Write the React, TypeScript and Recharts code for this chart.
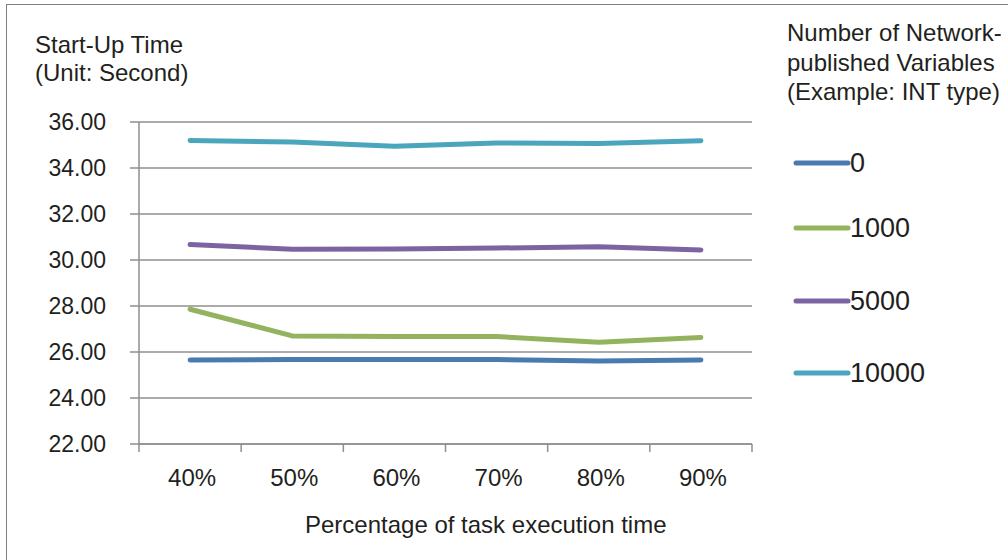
import { CartesianGrid, Legend, Line, LineChart, XAxis, YAxis } from "recharts";

// 데이터
const CATEGORIES = ["40%", "50%", "60%", "70%", "80%", "90%"];
const SERIES_NAMES = ["0", "1000", "5000", "10000"];
const VALUES_0 = [25.65, 25.67, 25.67, 25.67, 25.61, 25.65];
const VALUES_1000 = [27.86, 26.7, 26.67, 26.67, 26.42, 26.63];
const VALUES_5000 = [30.67, 30.47, 30.48, 30.52, 30.58, 30.44];
const VALUES_10000 = [35.2, 35.13, 34.95, 35.09, 35.07, 35.19];
const Y_TICKS = [22, 24, 26, 28, 30, 32, 34, 36];

const COLORS = ["#4a7bb0", "#93b35f", "#7b64a1", "#4ba6bd"];
const FONT = '"Liberation Sans", Arial, sans-serif';
const TEXT = "#231f20";
const GRID = "#8f8f8f";

// 레이아웃
const PLOT_LEFT = 139;
const PLOT_RIGHT = 752;
const PLOT_TOP = 122;
const PLOT_BOTTOM = 444;
const STEP = (PLOT_RIGHT - PLOT_LEFT) / CATEGORIES.length;
const LEGEND_ROW_TOPS = [0, 65, 138, 210];

const chartData = CATEGORIES.map((c, i) => ({
  name: c,
  s0: VALUES_0[i],
  s1000: VALUES_1000[i],
  s5000: VALUES_5000[i],
  s10000: VALUES_10000[i],
}));
const KEYS = ["s0", "s1000", "s5000", "s10000"];

// X축 눈금: 라벨은 가운데, 눈금선은 구간 경계
const XTick = (props: any) => {
  const { x, index } = props;
  const left = x - STEP / 2;
  return (
    <g>
      <line x1={left} x2={left} y1={PLOT_BOTTOM} y2={PLOT_BOTTOM + 8} stroke={GRID} strokeWidth={1.5} />
      {index === CATEGORIES.length - 1 && (
        <line x1={x + STEP / 2} x2={x + STEP / 2} y1={PLOT_BOTTOM} y2={PLOT_BOTTOM + 8} stroke={GRID} strokeWidth={1.5} />
      )}
      <text x={x + 2} y={486} textAnchor="middle" fill={TEXT} fontSize={24} fontFamily={FONT}>
        {props.payload.value}
      </text>
    </g>
  );
};

const LegendContent = () => (
  <div style={{ fontFamily: FONT, color: TEXT }}>
    {SERIES_NAMES.map((n, i) => (
      <div
        key={n}
        style={{ position: "absolute", left: 0, top: LEGEND_ROW_TOPS[i], height: 30, display: "flex", alignItems: "center" }}
      >
        <svg width={60} height={10} style={{ display: "block" }}>
          <line x1={3} x2={55} y1={5} y2={5} stroke={COLORS[i]} strokeWidth={5} strokeLinecap="round" />
        </svg>
        <span style={{ fontSize: 27, marginLeft: -3, lineHeight: "30px" }}>{n}</span>
      </div>
    ))}
  </div>
);

export default function App() {
  return (
    <div style={{ position: "absolute", left: 0, top: 0, width: 1008, height: 560, background: "#fff", overflow: "hidden", fontFamily: FONT }}>
      {/* 바깥 테두리 */}
      <div style={{ position: "absolute", left: 6, top: 4, width: 1020, height: 580, border: "1.5px solid #7f7f7f" }} />

      <LineChart
        width={1008}
        height={560}
        data={chartData}
        margin={{ top: PLOT_TOP, right: 1008 - PLOT_RIGHT, left: 0, bottom: 0 }}
      >
        <CartesianGrid vertical={false} stroke={GRID} strokeWidth={1.5} />
        <XAxis
          dataKey="name"
          scale="band"
          height={560 - PLOT_BOTTOM}
          axisLine={{ stroke: GRID, strokeWidth: 1.5 }}
          tickLine={false}
          tick={XTick}
          interval={0}
        />
        <YAxis
          width={PLOT_LEFT}
          domain={[22, 36]}
          ticks={Y_TICKS}
          tickFormatter={(v: number) => v.toFixed(2)}
          axisLine={{ stroke: GRID, strokeWidth: 1.5 }}
          tickLine={{ stroke: GRID, strokeWidth: 1.5 }}
          tickSize={9}
          tickMargin={24}
          tick={{ fill: TEXT, fontSize: 23, fontFamily: FONT }}
        />
        <Legend
          layout="vertical"
          align="center"
          verticalAlign="middle"
          wrapperStyle={{ left: 793, top: 148, width: 210, height: 300 }}
          content={LegendContent}
        />
        {KEYS.map((k, i) => (
          <Line
            key={k}
            dataKey={k}
            name={SERIES_NAMES[i]}
            type="linear"
            stroke={COLORS[i]}
            strokeWidth={5}
            strokeLinecap="round"
            strokeLinejoin="round"
            dot={false}
            activeDot={false}
            isAnimationActive={false}
          />
        ))}
      </LineChart>

      {/* Y축 제목 */}
      <div style={{ position: "absolute", left: 35, top: 31, fontSize: 24, lineHeight: "28px", color: TEXT }}>
        Start-Up Time
        <br />
        (Unit: Second)
      </div>

      {/* 범례 제목 */}
      <div style={{ position: "absolute", left: 787, top: 18, fontSize: 24, lineHeight: "29.5px", color: TEXT, whiteSpace: "nowrap" }}>
        Number of Network-
        <br />
        published Variables
        <br />
        (Example: INT type)
      </div>

      {/* X축 제목 */}
      <div style={{ position: "absolute", left: 305, top: 511, fontSize: 24, lineHeight: "28px", color: TEXT, whiteSpace: "nowrap" }}>
        Percentage of task execution time
      </div>
    </div>
  );
}
